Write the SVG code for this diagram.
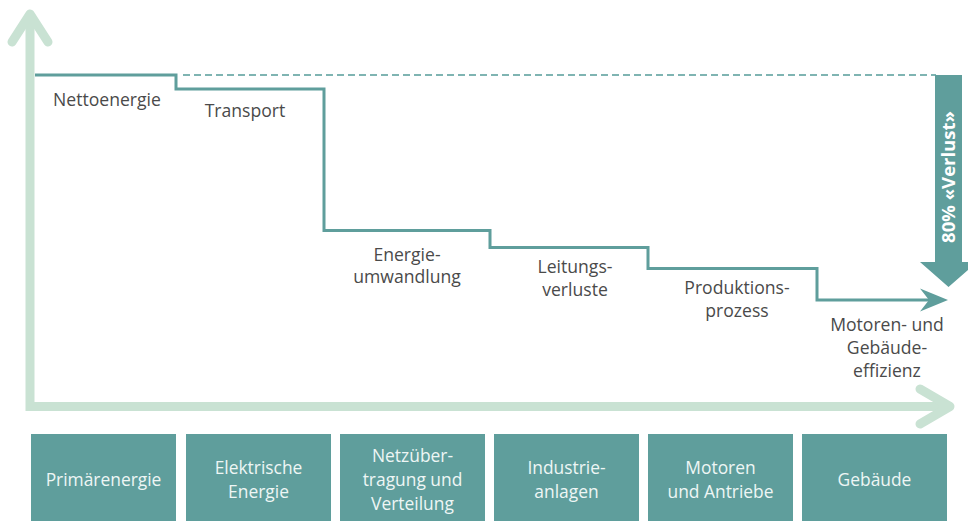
<svg xmlns="http://www.w3.org/2000/svg" width="968" height="521" viewBox="0 0 968 521">
  <style>
    .axis { fill: none; stroke: #c9e2d3; stroke-width: 9; }
    .step { fill: none; stroke: #5f9e9c; stroke-width: 3; stroke-linejoin: miter; }
    .dash { fill: none; stroke: #7fb4b2; stroke-width: 2.2; stroke-dasharray: 7 4; }
    .lbl { font-family: "Open Sans", "Liberation Sans", sans-serif; font-size: 17.6px; fill: #4a4a4a; text-anchor: middle; }
    .box { fill: #5f9e9c; }
    .boxt { font-family: "Open Sans", "Liberation Sans", sans-serif; font-size: 17.4px; fill: #eef6f5; text-anchor: middle; }
    .loss { font-family: "Open Sans", "Liberation Sans", sans-serif; font-size: 18.5px; font-weight: bold; fill: #ffffff; text-anchor: middle; }
  </style>

  <!-- axes -->
  <g id="axes">
    <path class="axis" d="M30,14 L30,406.5 L949,406.5" stroke-linejoin="miter"/>
    <path class="axis" d="M12,42 L30,14 L48,42" stroke-linecap="round" stroke-linejoin="round"/>
    <path class="axis" d="M920,389 L950,406.5 L920,424" stroke-linecap="round" stroke-linejoin="round"/>
  </g>

  <!-- connectors -->
  <g id="connectors">
    <line class="dash" x1="183" y1="75" x2="936" y2="75"/>
    <path class="step" d="M35,75 H176 V89 H324 V230.5 H490 V247.5 H648 V268.5 H817 V300 H934"/>
    <path d="M948,300 L920,288.5 L929,300 L920,311.5 Z" fill="#5f9e9c"/>
  </g>

  <!-- loss arrow -->
  <g id="loss">
    <path d="M935,75 H962 V262 H977 L948.5,287 L920,262 H935 Z" fill="#5f9e9c"/>
    <text class="loss" transform="translate(955,177) rotate(-90)">80% «Verlust»</text>
  </g>

  <!-- stage labels -->
  <g id="stage-netto"><text class="lbl" x="107" y="106">Nettoenergie</text></g>
  <g id="stage-transport"><text class="lbl" x="245" y="117">Transport</text></g>
  <g id="stage-umwandlung"><text class="lbl" x="407" y="261">Energie-</text><text class="lbl" x="407" y="283">umwandlung</text></g>
  <g id="stage-leitung"><text class="lbl" x="575" y="273">Leitungs-</text><text class="lbl" x="575" y="296">verluste</text></g>
  <g id="stage-produktion"><text class="lbl" x="737" y="294">Produktions-</text><text class="lbl" x="737" y="317">prozess</text></g>
  <g id="stage-effizienz"><text class="lbl" x="887" y="331">Motoren- und</text><text class="lbl" x="887" y="354">Gebäude-</text><text class="lbl" x="887" y="377">effizienz</text></g>

  <!-- bottom categories -->
  <g id="box-primaer"><rect class="box" x="31" y="434" width="145" height="87"/><text class="boxt" x="103.5" y="486">Primärenergie</text></g>
  <g id="box-elektrisch"><rect class="box" x="186" y="434" width="145" height="87"/><text class="boxt" x="258.5" y="474">Elektrische</text><text class="boxt" x="258.5" y="498">Energie</text></g>
  <g id="box-netz"><rect class="box" x="340" y="434" width="145" height="87"/><text class="boxt" x="412.5" y="462">Netzüber-</text><text class="boxt" x="412.5" y="486">tragung und</text><text class="boxt" x="412.5" y="510">Verteilung</text></g>
  <g id="box-industrie"><rect class="box" x="494" y="434" width="145" height="87"/><text class="boxt" x="566.5" y="474">Industrie-</text><text class="boxt" x="566.5" y="498">anlagen</text></g>
  <g id="box-motoren"><rect class="box" x="648" y="434" width="145" height="87"/><text class="boxt" x="720.5" y="474">Motoren</text><text class="boxt" x="720.5" y="498">und Antriebe</text></g>
  <g id="box-gebaeude"><rect class="box" x="802" y="434" width="145" height="87"/><text class="boxt" x="874.5" y="486">Gebäude</text></g>
</svg>
